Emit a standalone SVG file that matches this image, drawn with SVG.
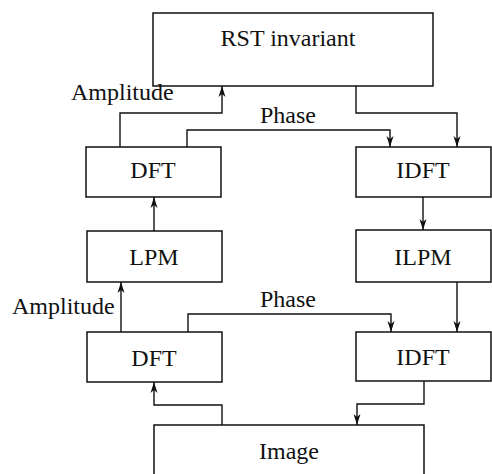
<svg xmlns="http://www.w3.org/2000/svg" width="492" height="474" viewBox="0 0 492 474">
  <style>
    .box { fill: #fff; stroke: #111; stroke-width: 1.5; }
    .lbl { font-family: "Liberation Serif", "Times New Roman", serif; font-size: 24px; fill: #111; }
    .mid { text-anchor: middle; }
    .wire { fill: none; stroke: #111; stroke-width: 1.4; marker-end: url(#head); }
  </style>
  <defs>
    <marker id="head" markerUnits="userSpaceOnUse" markerWidth="12" markerHeight="10" viewBox="0 0 12 10" refX="11" refY="5" orient="auto">
      <path d="M0,1.5 L11,5 L0,8.5 L3,5 z" fill="#111"/>
    </marker>
  </defs>

  <!-- processing blocks -->
  <g id="rst">
    <rect class="box" x="153" y="13" width="280" height="73"/>
    <text class="lbl mid" x="288" y="46">RST invariant</text>
  </g>
  <g id="dft-top">
    <rect class="box" x="86" y="147" width="135" height="50"/>
    <text class="lbl mid" x="153" y="178">DFT</text>
  </g>
  <g id="idft-top">
    <rect class="box" x="356" y="147" width="135" height="50"/>
    <text class="lbl mid" x="423" y="178">IDFT</text>
  </g>
  <g id="lpm">
    <rect class="box" x="87" y="231" width="135" height="51"/>
    <text class="lbl mid" x="154" y="265">LPM</text>
  </g>
  <g id="ilpm">
    <rect class="box" x="356" y="230" width="135" height="52"/>
    <text class="lbl mid" x="423" y="265">ILPM</text>
  </g>
  <g id="dft-bottom">
    <rect class="box" x="87" y="332" width="135" height="50"/>
    <text class="lbl mid" x="154" y="366">DFT</text>
  </g>
  <g id="idft-bottom">
    <rect class="box" x="356" y="332" width="135" height="49"/>
    <text class="lbl mid" x="423" y="365">IDFT</text>
  </g>
  <g id="image">
    <rect class="box" x="154" y="425" width="270" height="60"/>
    <text class="lbl mid" x="289" y="459">Image</text>
  </g>

  <!-- connectors -->
  <g id="connectors">
    <path class="wire" d="M120,147 V113 H222 V86"/>
    <path class="wire" d="M187,147 V130 H390 V147"/>
    <path class="wire" d="M356,86 V113 H457 V147"/>
    <path class="wire" d="M154,231 V197"/>
    <path class="wire" d="M423,197 V230"/>
    <path class="wire" d="M121,332 V282"/>
    <path class="wire" d="M188,332 V314 H391 V332"/>
    <path class="wire" d="M457,282 V332"/>
    <path class="wire" d="M222,425 V405 H154 V382"/>
    <path class="wire" d="M424,381 V404 H357 V425"/>
  </g>

  <!-- connector labels -->
  <g id="labels">
    <text class="lbl" x="71" y="100">Amplitude</text>
    <text class="lbl mid" x="288" y="123">Phase</text>
    <text class="lbl" x="12" y="314">Amplitude</text>
    <text class="lbl mid" x="288" y="307">Phase</text>
  </g>
</svg>
